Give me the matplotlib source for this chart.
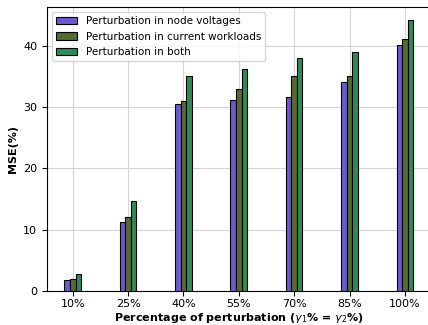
import matplotlib
matplotlib.use("Agg")
import matplotlib.pyplot as plt
import numpy as np

categories = ["10%", "25%", "40%", "55%", "70%", "85%", "100%"]
node_voltages = [1.8, 11.3, 30.5, 31.1, 31.6, 34.1, 40.1]
current_workloads = [2.0, 12.0, 30.9, 32.9, 35.0, 35.1, 41.1]
both = [2.8, 14.6, 35.1, 36.2, 38.0, 39.0, 44.1]
series_labels = ["Perturbation in node voltages",
                 "Perturbation in current workloads",
                 "Perturbation in both"]
colors = ["#6a5acd", "#556b2f", "#2e8b57"]

fig = plt.figure(figsize=(4.28, 3.25), dpi=100)
ax = fig.add_axes([47/428, 1 - 291/325, 383.6/428, 284/325])
x = np.arange(len(categories))
w = 0.1
for i, (vals, lab, c) in enumerate(zip([node_voltages, current_workloads, both], series_labels, colors)):
    ax.bar(x + (i - 1) * w, vals, w, label=lab, color=c, edgecolor="black", linewidth=0.8, zorder=3)

ax.set_xticks(x)
ax.set_xticklabels(categories, fontsize=8)
ax.set_yticks([0, 10, 20, 30, 40])
ax.tick_params(axis='y', labelsize=8)
ax.tick_params(axis='x', pad=2.5)
ax.grid(True, color="#d3d3d3", linewidth=0.8, zorder=0)
ax.set_axisbelow(True)
ax.set_xlabel(r"Percentage of perturbation ($\gamma_1$% = $\gamma_2$%)", fontsize=8, fontweight="bold", labelpad=1)
ax.set_ylabel("MSE(%)", fontsize=8, fontweight="bold")
ax.set_xlim(-0.465, 6.465)
ax.set_ylim(0, 46.3)
ax.legend(loc="upper left", fontsize=7.5, framealpha=0.8)
fig.savefig("out.png", dpi=100)
